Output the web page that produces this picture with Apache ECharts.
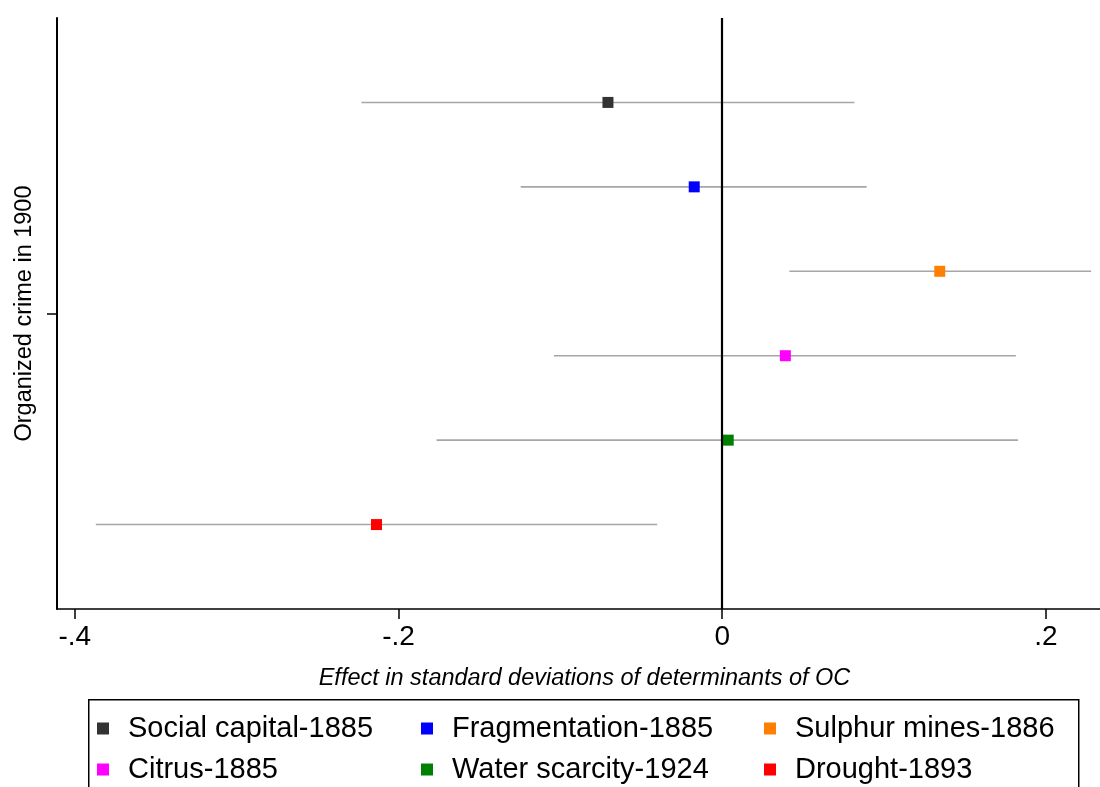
<!DOCTYPE html>
<html>
<head>
<meta charset="utf-8">
<script src="https://cdn.jsdelivr.net/npm/echarts@6/dist/echarts.min.js"></script>
<style>html,body{margin:0;padding:0;background:#fff;}#c{width:1100px;height:787px;}</style>
</head>
<body>
<div id="c"></div>
<script>
var categories = ['Social capital-1885', 'Fragmentation-1885', 'Sulphur mines-1886', 'Citrus-1885', 'Water scarcity-1924', 'Drought-1893'];
var estimates = [-0.0706, -0.0173, 0.1344, 0.0390, 0.0037, -0.2136];
var lowerCI = [-0.2229, -0.1245, 0.0415, -0.1040, -0.1765, -0.3870];
var upperCI = [0.0817, 0.0892, 0.2279, 0.1814, 0.1827, -0.0402];
var rowPos = [6, 5, 4, 3, 2, 1];
var colors = ['#333333', '#0000ff', '#ff8000', '#ff00ff', '#008000', '#ff0000'];
var xTicks = [-0.4, -0.2, 0, 0.2];
var yTickLabel = 'Organized crime in 1900';
var xTitle = 'Effect in standard deviations of determinants of OC';

var FONT = '"Liberation Sans", Arial, Helvetica, sans-serif';
var chart = echarts.init(document.getElementById('c'), null, {renderer: 'canvas'});

var ciData = categories.map(function (c, i) { return [lowerCI[i], upperCI[i], rowPos[i]]; });

var series = [{
  type: 'custom',
  name: 'CI',
  z: 1,
  silent: true,
  renderItem: function (params, api) {
    var a = api.coord([api.value(0), api.value(2)]);
    var b = api.coord([api.value(1), api.value(2)]);
    return {type: 'line', shape: {x1: a[0], y1: a[1], x2: b[0], y2: b[1]},
      style: {stroke: '#a6a6a6', lineWidth: 1.6}};
  },
  encode: {x: [0, 1], y: 2},
  data: ciData,
  markLine: {
    silent: true, symbol: 'none', animation: false,
    label: {show: false},
    lineStyle: {color: '#000', width: 2.2, type: 'solid'},
    data: [{xAxis: 0}]
  }
}];
categories.forEach(function (c, i) {
  series.push({
    type: 'scatter', name: c, z: 3,
    symbol: 'rect', symbolSize: 11,
    itemStyle: {color: colors[i], opacity: 1},
    data: [[estimates[i], rowPos[i]]]
  });
});

function legendCol(names, left) {
  return {
    show: true, orient: 'vertical', left: left, top: 714, height: 72, padding: 0,
    itemGap: 12, itemWidth: 12, itemHeight: 12, icon: 'rect',
    selectedMode: false,
    textStyle: {fontFamily: FONT, fontSize: 29, lineHeight: 29, color: '#000', padding: [0, 0, 0, 14]},
    data: names.map(function (n) { return {name: n, itemStyle: {color: colors[categories.indexOf(n)]}}; })
  };
}

var option = {
  animation: false,
  backgroundColor: '#fff',
  textStyle: {fontFamily: FONT},
  grid: {left: 57, right: 0, top: 18, bottom: 178, containLabel: false},
  xAxis: {
    type: 'value', min: -0.411, max: 0.2334,
    name: xTitle, nameLocation: 'middle', nameGap: 58,
    nameTextStyle: {fontFamily: FONT, fontSize: 23.5, fontStyle: 'italic', color: '#000', padding: [0, 0, 0, 12]},
    axisLine: {show: true, onZero: false, lineStyle: {color: '#000', width: 1.5}},
    axisTick: {show: true, length: 10, customValues: xTicks, lineStyle: {color: '#000', width: 1.5}},
    axisLabel: {show: true, customValues: xTicks, margin: 14, fontFamily: FONT, fontSize: 28, color: '#000',
      formatter: function (v) { if (Math.abs(v) < 1e-9) return '0'; var s = v.toFixed(1); return s.replace('0.', '.'); }},
    splitLine: {show: false}
  },
  yAxis: {
    type: 'value', min: 0, max: 7,
    name: yTickLabel, nameLocation: 'middle', nameGap: 20, nameRotate: 90,
    nameTextStyle: {fontFamily: FONT, fontSize: 23.5, color: '#000'},
    axisLine: {show: true, onZero: false, lineStyle: {color: '#000', width: 2}},
    axisTick: {show: true, length: 10, customValues: [3.5], lineStyle: {color: '#000', width: 1.5}},
    axisLabel: {show: false},
    splitLine: {show: false}
  },
  legend: [
    legendCol([categories[0], categories[3]], 97),
    legendCol([categories[1], categories[4]], 421),
    legendCol([categories[2], categories[5]], 764)
  ],
  graphic: [{
    type: 'rect', left: 88, top: 699, z: -1,
    shape: {width: 990, height: 120},
    style: {fill: '#fff', stroke: '#000', lineWidth: 1.5}
  }],
  series: series
};
chart.setOption(option);
</script>
</body>
</html>
